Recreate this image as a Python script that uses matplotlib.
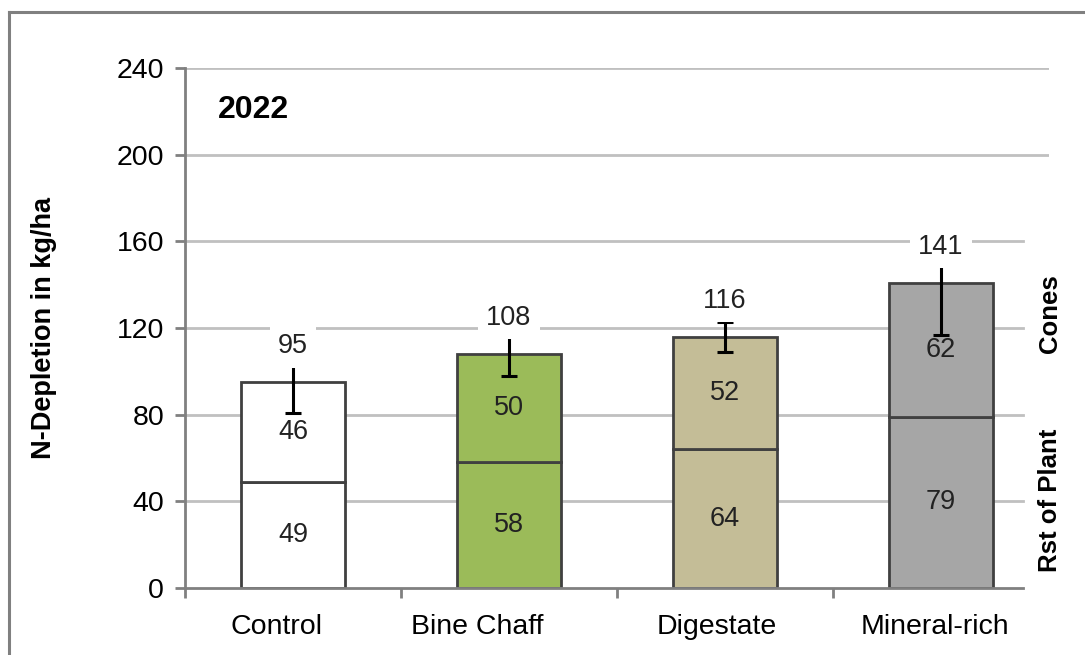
import numpy as np
import matplotlib
matplotlib.use('Agg')
import matplotlib.pyplot as plt
from matplotlib.lines import Line2D
from matplotlib.transforms import ScaledTranslation

plt.rcParams['font.family'] = ['Liberation Sans', 'DejaVu Sans']

# data
categories = ['Control', 'Bine Chaff', 'Digestate', 'Mineral-rich']
rest_of_plant = [49, 58, 64, 79]
cones = [46, 50, 52, 62]
totals = [95, 108, 116, 141]
errors = [14, 10, 7, 24]
colors = ['#ffffff', '#9bbb59', '#c4bd97', '#a6a6a6']
yticks = [0, 40, 80, 120, 160, 200, 240]

fig = plt.figure(figsize=(10.85, 6.55), dpi=100)
ax = fig.add_axes([185/1085, 1 - 588/655, 864/1085, 520/655])

x = np.arange(len(categories))
width = 0.477
edge = '#404040'

ax.bar(x, rest_of_plant, width, color=colors, edgecolor=edge, linewidth=2, zorder=2)
ax.bar(x, cones, width, bottom=rest_of_plant, color=colors, edgecolor=edge,
       linewidth=2, zorder=2)

ax.errorbar(x, totals, yerr=errors, fmt='none', ecolor='black', elinewidth=2.2,
            capsize=6, capthick=2.2, zorder=3)

for xi, r, c, t in zip(x, rest_of_plant, cones, totals):
    ax.text(xi, r / 2, str(r), ha='center', va='center', fontsize=19.5, color='#222222', zorder=4)
    ax.text(xi, r + c / 2, str(c), ha='center', va='center', fontsize=19.5, color='#222222', zorder=4)
    ax.text(xi, t + 16.5, str(t), ha='center', va='center', fontsize=19.5, color='#222222',
            zorder=5, bbox=dict(boxstyle='square,pad=0.3', fc='white', ec='none'))

# gridlines (lower ones stop short of the right edge as in the source)
for yv in yticks[1:]:
    xmax = 1.0 if yv >= 200 else 0.97
    ax.axhline(yv, xmin=0, xmax=xmax, color='#c0c0c0', linewidth=2, zorder=1)

ax.set_xlim(-0.5, 3.5)
ax.set_ylim(0, 240)
ax.set_yticks(yticks)
ax.set_xticks(x)
ax.set_xticklabels(categories)
ax.set_xticks(np.arange(-0.5, 3.5, 1), minor=True)
ax.tick_params(axis='x', which='major', length=0, pad=19, labelsize=20.5)
ax.tick_params(axis='x', which='minor', length=7, width=2, color='#808080')
ax.tick_params(axis='y', length=7, width=2, color='#808080', pad=8, labelsize=20.5)

# the source's category labels sit slightly left of the bar centres
label_shift_px = [-17, -32, -8, -6]
for lab, dx in zip(ax.get_xticklabels(), label_shift_px):
    lab.set_transform(lab.get_transform() + ScaledTranslation(dx / 100, 0, fig.dpi_scale_trans))

for s in ['top', 'right']:
    ax.spines[s].set_visible(False)
for s in ['left', 'bottom']:
    ax.spines[s].set_color('#808080')
    ax.spines[s].set_linewidth(2)
ax.spines['bottom'].set_bounds(-0.5, 3.38)
ax.spines['bottom'].set_zorder(3)

ax.set_ylabel('N-Depletion in kg/ha', fontsize=19.5, fontweight='bold')
ax.yaxis.set_label_coords((57 - 185) / 864, 0.5)

fig.text(218/1085, 1 - 110/655, '2022', fontsize=23, fontweight='bold', va='center', ha='left')
fig.text(1050/1085, 1 - 314/655, 'Cones', fontsize=18.5, fontweight='bold', rotation=90,
         ha='center', va='center')
fig.text(1050/1085, 1 - 500/655, 'Rst of Plant', fontsize=18.5, fontweight='bold', rotation=90,
         ha='center', va='center')

# outer frame (top and left edges only)
fig.add_artist(Line2D([8.5/1085, 1], [1 - 12/655, 1 - 12/655], color='#808080', linewidth=2.2,
                      transform=fig.transFigure))
fig.add_artist(Line2D([8.5/1085, 8.5/1085], [1 - 12/655, 0], color='#808080', linewidth=2.2,
                      transform=fig.transFigure))

fig.savefig('out.png', dpi=100)
